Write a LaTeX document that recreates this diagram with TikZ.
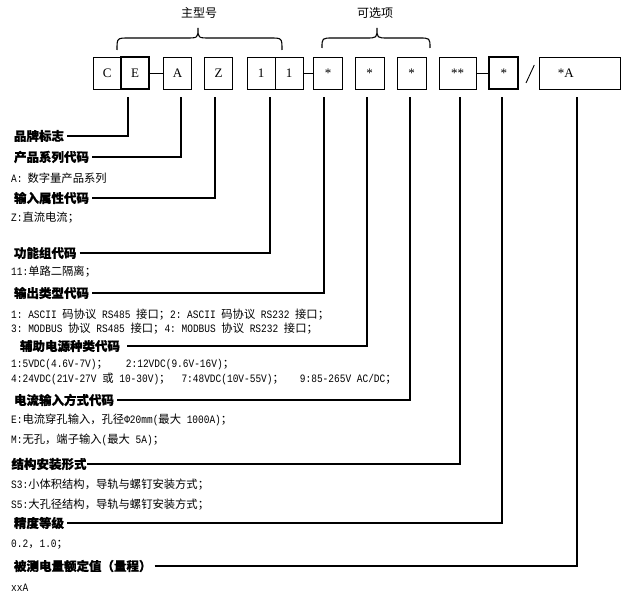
\documentclass[tikz,border=0pt]{standalone}
\usepackage{fontspec}
\setmainfont{Liberation Serif}
\newfontfamily\cjk{Noto Sans CJK SC}
\newfontfamily\cjkh[BoldFeatures={FakeBold=0.7}]{Noto Sans CJK SC}
\newfontfamily\latf[FakeStretch=0.84]{Liberation Mono}
\newcommand\mo[1]{{\latf #1}}
\begin{document}
\begin{tikzpicture}[x=1pt,y=-1pt,
  box/.style={draw, line width=1.1pt, minimum height=32pt, inner sep=0pt, font=\fontsize{13}{13}\selectfont},
  thickbox/.style={box, line width=1.8pt},
  head/.style={anchor=west, inner sep=0pt, outer sep=3pt, font=\cjkh\bfseries\fontsize{12.5}{12.5}\selectfont},
  body/.style={anchor=west, inner sep=0pt, font=\cjk\fontsize{11.3}{11.3}\selectfont},
  conn/.style={line width=1.7pt},
  link/.style={line width=1.1pt},
  brace/.style={line width=1.1pt},
  lbl/.style={font=\cjk\fontsize{12}{12}\selectfont, inner sep=0pt}]
\useasboundingbox (0,0) rectangle (630,599);

% ---- code boxes ----
\node[box, minimum width=27.7pt] (bC) at (107.2,73.3) {C};
\node[thickbox, minimum width=28pt] (bE) at (135,73.3) {E};
\node[box, minimum width=28.4pt] (bA) at (177.5,73.3) {A};
\node[box, minimum width=28.4pt] (bZ) at (218.5,73.3) {Z};
\node[box, minimum width=27.7pt] (b1a) at (261.2,73.3) {1};
\node[box, minimum width=28.3pt] (b1b) at (289.2,73.3) {1};
\node[box, minimum width=29.4pt] (bs1) at (328,73.3) {*};
\node[box, minimum width=29.3pt] (bs2) at (369.7,73.3) {*};
\node[box, minimum width=28.7pt] (bs3) at (411.7,73.3) {*};
\node[box, minimum width=36.7pt] (bss) at (457.7,73.3) {**};
\node[thickbox, minimum width=29pt] (bs4) at (503.8,73.3) {*};
\node[box, minimum width=80.7pt] (bA2) at (579.7,73.3) {\hspace*{-28pt}*A};

\draw[link] (bE.east) -- (bA.west);
\draw[link] (b1b.east) -- (bs1.west);
\draw[link] (bss.east) -- (bs4.west);
\coordinate (sl1) at (526,83);
\coordinate (sl2) at (534.3,65);
\draw[line width=0.9pt] (sl1) -- (sl2);

% ---- braces ----
\draw[brace] (117,50) .. controls (117,38) .. (129,38) -- (186,38)
  .. controls (198,38) .. (198,28) .. controls (198,38) .. (210,38) -- (270,38)
  .. controls (282,38) .. (282,50);
\node[lbl] (g1) at (199,13) {主型号};
\draw[brace] (322,48) .. controls (322,38) .. (333,38) -- (366,38)
  .. controls (377,38) .. (377,28) .. controls (377,38) .. (388,38) -- (419,38)
  .. controls (430,38) .. (430,48);
\node[lbl] (g2) at (375,13) {可选项};

% ---- tick tops ----
\coordinate (t1) at (128,97);
\coordinate (t2) at (181,97);
\coordinate (t3) at (215,97);
\coordinate (t4) at (270,97);
\coordinate (t5) at (324,97);
\coordinate (t6) at (367,97);
\coordinate (t7) at (410,97);
\coordinate (t8) at (460,97);
\coordinate (t9) at (502,97);
\coordinate (t10) at (577,97);

% ---- headings ----
\node[head] (h1) at (11,136) {品牌标志};
\node[head] (h2) at (11,157) {产品系列代码};
\node[head] (h3) at (11,198) {输入属性代码};
\node[head] (h4) at (11,253) {功能组代码};
\node[head] (h5) at (11,293) {输出类型代码};
\node[head, outer sep=7pt] (h6) at (13,346) {辅助电源种类代码};
\node[head] (h7) at (11,400) {电流输入方式代码};
\node[head, outer sep=0.5pt] (h8) at (11,464) {结构安装形式};
\node[head] (h9) at (11,523) {精度等级};
\node[head] (h10) at (11,566) {被测电量额定值（量程）};

\draw[conn] (h1.east) -| (t1);
\draw[conn] (h2.east) -| (t2);
\draw[conn] (h3.east) -| (t3);
\draw[conn] (h4.east) -| (t4);
\draw[conn] (h5.east) -| (t5);
\draw[conn] (h6.east) -| (t6);
\draw[conn] (h7.east) -| (t7);
\draw[conn] (h8.east) -| (t8);
\draw[conn] (h9.east) -| (t9);
\draw[conn] (h10.east) -| (t10);

% ---- descriptions ----
\node[body] (d1) at (11,178) {\mo{A:}\hspace{5pt}数字量产品系列};
\node[body] (d2) at (11,218) {\mo{Z:}直流电流；};
\node[body] (d3) at (11,272) {\mo{11:}单路二隔离；};
\node[body] (d4) at (11,315) {\mo{1:\ ASCII\ }码协议\mo{\ RS485\ }接口；\mo{2:\ ASCII\ }码协议\mo{\ RS232\ }接口；};
\node[body] (d5) at (11,329) {\mo{3:\ MODBUS\ }协议\mo{\ RS485\ }接口；\mo{4:\ MODBUS\ }协议\mo{\ RS232\ }接口；};
\node[body] (d6) at (11,365) {\mo{1:5VDC(4.6V-7V)}；\hspace{18pt}\mo{2:12VDC(9.6V-16V)}；};
\node[body] (d7) at (11,379) {\mo{4:24VDC(21V-27V\ }或\mo{\ 10-30V)}；\hspace{11pt}\mo{7:48VDC(10V-55V)}；\hspace{16pt}\mo{9:85-265V\ AC/DC}；};
\node[body] (d8) at (11,420) {\mo{E:}电流穿孔输入，孔径\mo{Φ20mm(}最大\mo{\ 1000A)}；};
\node[body] (d9) at (11,440) {\mo{M:}无孔，端子输入\mo{(}最大\mo{\ 5A)}；};
\node[body] (d10) at (11,485) {\mo{S3:}小体积结构，导轨与螺钉安装方式；};
\node[body] (d11) at (11,505) {\mo{S5:}大孔径结构，导轨与螺钉安装方式；};
\node[body] (d12) at (11,545) {\mo{0.2}，\mo{1.0}；};
\node[body] (d13) at (11,588) {\mo{xxA}};
\end{tikzpicture}
\end{document}
